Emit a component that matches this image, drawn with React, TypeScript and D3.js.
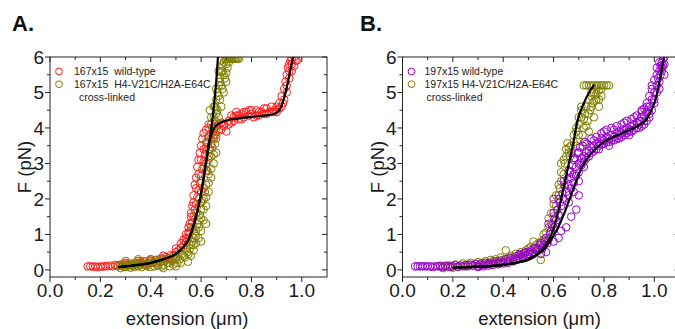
import React from "react";
import * as d3 from "d3";

type P = [number, number];

const xTicks = [0, 0.2, 0.4, 0.6, 0.8, 1.0];
const yTicks = [0, 1, 2, 3, 4, 5, 6];

const legendA = ["167x15  wild-type", "167x15  H4-V21C/H2A-E64C", "cross-linked"];
const legendB = ["197x15 wild-type", "197x15 H4-V21C/H2A-E64C", "cross-linked"];

const redA: P[] = [
  [0.15,0.1],[0.16,0.1],[0.17,0.09],[0.18,0.1],[0.19,0.08],[0.2,0.1],[0.21,0.09],[0.22,0.11],[0.23,0.1],[0.24,0.12],
  [0.25,0.1],[0.26,0.14],[0.27,0.12],[0.28,0.15],[0.29,0.13],[0.3,0.16],[0.31,0.14],[0.32,0.18],[0.33,0.15],[0.34,0.2],
  [0.35,0.17],[0.36,0.22],[0.37,0.18],[0.38,0.24],[0.39,0.2],[0.4,0.26],[0.41,0.22],[0.42,0.28],[0.43,0.25],[0.44,0.32],
  [0.45,0.3],[0.46,0.36],[0.47,0.33],[0.48,0.42],[0.49,0.4],[0.5,0.5],[0.51,0.55],[0.52,0.62],[0.53,0.7],[0.54,0.78],
  [0.55,0.9],[0.555,1.05],[0.56,1.2],[0.565,1.35],[0.57,1.5],[0.575,1.7],[0.58,1.85],[0.585,2.05],[0.59,2.25],[0.595,2.45],
  [0.6,2.65],[0.605,2.85],[0.61,3.05],[0.615,3.25],[0.62,3.45],[0.625,3.6],[0.63,3.75],[0.64,3.85],[0.65,3.95],[0.66,4.05],
  [0.67,4.1],[0.68,4.15],[0.69,4.1],[0.7,3.9],[0.71,4.2],[0.72,4.15],[0.73,4.3],[0.74,4.35],[0.75,4.25],[0.76,4.4],
  [0.77,4.3],[0.78,4.45],[0.79,4.35],[0.8,4.4],[0.81,4.3],[0.82,4.5],[0.83,4.35],[0.84,4.45],[0.85,4.4],[0.86,4.55],
  [0.87,4.45],[0.88,4.6],[0.89,4.5],[0.9,4.6],[0.91,4.7],[0.92,4.9],[0.93,5.1],[0.935,5.3],[0.94,5.5],[0.945,5.7],
  [0.95,5.8],[0.955,5.9],[0.96,5.95],[0.97,6.0],[0.975,5.9],
  [0.57,1.9],[0.58,2.3],[0.59,2.7],[0.6,3.1],[0.61,3.4],[0.56,1.5],[0.55,1.2],[0.54,1.0],[0.6,2.2],[0.62,3.0],
  [0.63,3.4],[0.65,3.7],[0.66,3.8],[0.68,3.95],[0.72,4.35],[0.74,4.45],[0.76,4.25],[0.79,4.5],[0.82,4.35],[0.85,4.55],
  [0.88,4.45],[0.9,4.45],[0.92,4.6],[0.93,4.8],[0.94,5.0],[0.95,5.4],[0.96,5.6],[0.97,5.75],[0.98,5.9],
  [0.3,0.2],[0.35,0.25],[0.4,0.3],[0.45,0.4],[0.5,0.6],[0.52,0.75],[0.53,0.85],[0.48,0.3],[0.42,0.2],[0.38,0.15],
  [0.54,0.9],[0.55,1.05],[0.555,1.3],[0.56,1.6],[0.565,1.8],[0.57,2.1],[0.575,2.4],[0.58,2.6],[0.585,2.9],[0.59,3.1],
  [0.595,3.3],[0.6,3.5],[0.605,3.7],[0.61,3.85],[0.62,3.95],[0.63,4.0],[0.64,4.1],
  [0.6,1.9],[0.61,2.3],[0.62,2.8],[0.63,3.2],[0.64,3.55],[0.65,3.8],[0.67,3.95],[0.69,4.05],[0.71,4.1],[0.73,4.2],
  [0.75,4.35],[0.77,4.45],[0.8,4.5],[0.83,4.45],[0.86,4.4],[0.89,4.45],[0.91,4.55],[0.925,4.7],[0.94,5.2],[0.95,5.6],[0.96,5.8]
];

const oliveA: P[] = [
  [0.27,0.1],[0.28,0.05],[0.29,0.12],[0.3,0.08],[0.31,0.15],[0.32,0.06],[0.33,0.12],[0.34,0.2],[0.35,0.1],[0.36,0.15],
  [0.37,0.25],[0.38,0.12],[0.39,0.18],[0.4,0.08],[0.41,0.2],[0.42,0.28],[0.43,0.12],[0.44,0.22],[0.45,0.15],[0.46,0.3],
  [0.47,0.2],[0.48,0.35],[0.49,0.15],[0.5,0.3],[0.51,0.45],[0.52,0.2],[0.53,0.4],[0.54,0.6],[0.548,0.23],[0.56,0.7],
  [0.57,0.9],[0.58,1.1],[0.59,1.4],[0.6,1.7],[0.61,2.0],[0.62,2.4],[0.625,2.8],[0.63,3.1],[0.635,3.4],[0.64,3.7],
  [0.645,4.0],[0.65,4.3],[0.655,4.6],[0.66,4.8],[0.665,5.0],[0.67,5.2],[0.675,5.4],[0.68,5.6],[0.685,5.75],[0.69,5.85],
  [0.695,5.95],[0.7,5.95],[0.705,5.95],[0.71,5.95],[0.715,5.95],[0.72,5.95],[0.725,5.95],[0.73,5.95],[0.735,5.95],[0.74,5.95],[0.745,5.95],[0.75,5.95],
  [0.6,1.1],[0.61,1.4],[0.62,1.8],[0.63,2.2],[0.64,2.6],[0.65,3.0],[0.66,3.3],[0.64,3.2],[0.62,1.3],[0.59,0.9],
  [0.58,0.75],[0.6,0.8],[0.57,0.55],[0.55,0.45],[0.5,0.1],[0.45,0.05],[0.4,0.3],[0.35,0.3],[0.3,0.25],
  [0.64,4.3],[0.65,4.6],[0.66,4.4],[0.67,4.9],[0.66,5.1],[0.68,5.2],[0.69,5.5],[0.67,5.6],[0.7,5.8],[0.68,5.9],
  [0.66,3.9],[0.65,4.0],[0.635,4.5],[0.63,4.1],[0.62,3.6],[0.61,2.9],[0.6,2.5],[0.59,2.0],[0.58,1.6],[0.57,1.2],
  [0.56,0.4],[0.57,0.7],[0.58,0.95],[0.59,1.2],[0.6,1.45],[0.61,1.7],[0.62,2.05],[0.63,2.45],[0.64,2.85],[0.65,3.25],
  [0.655,3.55],[0.66,3.7],[0.645,3.45],[0.63,2.7],[0.615,2.2],[0.605,1.95],[0.595,1.55],[0.585,1.3],[0.575,1.0],[0.565,0.8],
  [0.555,0.6],[0.545,0.5],[0.535,0.35],[0.525,0.45],[0.515,0.3],[0.505,0.2],[0.495,0.35],[0.485,0.25],[0.475,0.1],[0.465,0.2],
  [0.455,0.25],[0.445,0.1],[0.435,0.3],[0.425,0.15],[0.415,0.1],[0.405,0.2],[0.395,0.25],[0.385,0.1],[0.375,0.15],[0.365,0.08],
  [0.355,0.2],[0.345,0.12],[0.335,0.08],[0.325,0.15],[0.315,0.1],[0.305,0.12],[0.295,0.08],[0.285,0.15],
  [0.655,4.2],[0.665,4.5],[0.675,4.8],[0.685,5.1],[0.695,5.4],[0.705,5.7],[0.67,4.3],[0.68,4.6],[0.69,5.0],[0.7,5.3],
  [0.66,4.55],[0.675,5.3],[0.685,5.6],[0.7,5.55],[0.71,5.85]
];

const fitRedA: P[] = [
  [0.27,0.08],[0.3,0.1],[0.35,0.14],[0.4,0.2],[0.45,0.3],[0.5,0.45],[0.53,0.65],[0.55,0.85],[0.57,1.25],[0.585,1.65],
  [0.6,2.15],[0.61,2.6],[0.62,3.05],[0.63,3.5],[0.64,3.8],[0.65,3.98],[0.66,4.07],[0.68,4.16],[0.7,4.21],[0.75,4.27],
  [0.8,4.31],[0.85,4.35],[0.88,4.38],[0.9,4.43],[0.915,4.55],[0.93,4.85],[0.945,5.3],[0.955,5.65],[0.965,6.0]
];
const fitOliveA: P[] = [
  [0.27,0.08],[0.3,0.1],[0.35,0.14],[0.4,0.2],[0.45,0.3],[0.5,0.45],[0.53,0.65],[0.55,0.85],[0.57,1.25],[0.585,1.65],
  [0.6,2.15],[0.61,2.6],[0.62,3.05],[0.63,3.5],[0.64,3.97],[0.65,4.55],[0.66,5.3],[0.667,6.0]
];

const purpleB: P[] = [
  [0.05,0.1],[0.06,0.1],[0.07,0.1],[0.08,0.1],[0.1,0.1],[0.12,0.08],[0.14,0.1],[0.15,0.12],[0.16,0.08],[0.17,0.1],
  [0.18,0.12],[0.19,0.08],[0.2,0.1],[0.21,0.13],[0.22,0.09],[0.23,0.12],[0.24,0.1],[0.25,0.14],[0.26,0.1],[0.27,0.15],
  [0.28,0.12],[0.29,0.16],[0.3,0.12],[0.31,0.18],[0.32,0.14],[0.33,0.2],[0.34,0.16],[0.35,0.2],[0.36,0.18],[0.37,0.24],
  [0.38,0.2],[0.39,0.26],[0.4,0.22],[0.41,0.3],[0.42,0.25],[0.43,0.34],[0.44,0.3],[0.45,0.38],[0.46,0.34],[0.47,0.42],
  [0.48,0.4],[0.49,0.5],[0.5,0.45],[0.51,0.55],[0.52,0.5],[0.53,0.62],[0.54,0.6],[0.55,0.75],[0.56,0.7],[0.57,0.9],
  [0.58,0.85],[0.59,1.1],[0.6,1.2],[0.61,1.4],[0.62,1.55],[0.63,1.8],[0.64,2.0],[0.65,2.2],[0.66,2.4],[0.67,2.6],
  [0.68,2.7],[0.69,2.9],[0.7,3.0],[0.71,3.15],[0.72,3.2],[0.73,3.3],[0.74,3.35],[0.75,3.45],[0.76,3.5],[0.77,3.55],
  [0.78,3.6],[0.79,3.7],[0.8,3.65],[0.81,3.75],[0.82,3.7],[0.83,3.8],[0.84,3.75],[0.85,3.85],[0.86,3.9],[0.87,3.85],
  [0.88,3.95],[0.89,4.0],[0.9,3.95],[0.91,4.05],[0.92,4.1],[0.93,4.15],[0.94,4.2],[0.95,4.3],[0.96,4.35],[0.97,4.45],
  [0.98,4.6],[0.99,4.8],[1.0,5.0],[1.01,5.2],[1.015,5.4],[1.02,5.6],[1.025,5.75],[1.03,5.85],[1.035,5.95],[1.04,6.0],
  [0.58,1.3],[0.6,1.6],[0.62,2.0],[0.6,2.0],[0.64,2.5],[0.66,2.8],[0.68,3.1],[0.7,3.3],[0.66,1.9],[0.68,2.2],
  [0.7,2.5],[0.72,2.9],[0.69,1.7],[0.7,2.1],[0.67,1.5],[0.65,1.2],[0.63,1.1],[0.62,0.9],[0.6,0.8],[0.57,0.5],[0.55,0.45],
  [0.75,3.7],[0.78,3.4],[0.8,3.9],[0.82,3.5],[0.84,3.95],[0.86,3.7],[0.88,4.15],[0.9,3.8],[0.92,4.3],[0.94,4.1],
  [0.95,4.5],[0.96,4.2],[0.97,4.7],[0.98,4.4],[0.99,5.1],[1.0,4.7],[1.01,5.5],[1.02,5.3],[1.03,5.7],[1.04,5.5],
  [1.035,5.75],[0.73,3.55],[0.76,3.65],
  [0.585,1.0],[0.595,1.25],[0.605,1.45],[0.615,1.7],[0.625,1.9],[0.635,2.15],[0.645,2.35],[0.655,2.55],[0.665,2.75],[0.675,2.95],
  [0.685,3.15],[0.695,3.3],[0.705,3.45],[0.715,3.5],[0.725,3.6],[0.66,2.1],[0.67,2.3],[0.68,2.45],[0.69,2.65],[0.7,2.75],
  [0.71,2.95],[0.72,3.05],[0.73,3.15],[0.74,3.2],[0.75,3.3],[0.76,3.35],[0.77,3.4],[0.78,3.5],[0.79,3.55],[0.8,3.55],
  [0.81,3.6],[0.82,3.6],[0.83,3.65],[0.84,3.65],[0.85,3.7],[0.86,3.8],[0.87,3.75],[0.88,3.8],[0.89,3.85],[0.9,3.9],
  [0.91,3.9],[0.92,3.95],[0.93,4.0],[0.94,4.0],[0.95,4.05],[0.96,4.1],[0.97,4.2],[0.98,4.3],[0.99,4.5],[1.0,4.8],
  [1.01,5.0],[1.02,5.1],[1.025,5.5],[1.03,5.6],[1.04,5.8],[0.77,3.75],[0.79,3.85],[0.81,3.95],[0.83,4.0],[0.85,4.05],
  [0.87,4.1],[0.89,4.2],[0.91,4.25],[0.93,4.35],[0.95,4.45],[0.96,4.55],[0.97,4.6],[0.98,4.9],[0.99,5.2],[1.0,5.35],
  [1.01,5.7],[1.02,5.85],
  [0.455,0.3],[0.465,0.45],[0.475,0.35],[0.485,0.48],[0.495,0.4],[0.505,0.5],[0.515,0.45],[0.525,0.6],[0.535,0.55],[0.545,0.7],
  [0.555,0.6],[0.565,0.8],[0.575,0.75],[0.3,0.08],[0.32,0.1],[0.34,0.12],[0.36,0.14],[0.38,0.16],[0.4,0.18],[0.42,0.2],
  [0.44,0.24],[0.13,0.1],[0.11,0.1],[0.09,0.1]
];

const oliveB: P[] = [
  [0.15,0.1],[0.16,0.05],[0.17,0.12],[0.18,0.08],[0.19,0.12],[0.2,0.06],[0.21,0.15],[0.22,0.08],[0.23,0.12],[0.24,0.18],
  [0.25,0.1],[0.26,0.15],[0.27,0.2],[0.28,0.12],[0.29,0.18],[0.3,0.22],[0.31,0.15],[0.32,0.2],[0.33,0.25],[0.34,0.18],
  [0.35,0.28],[0.36,0.2],[0.37,0.3],[0.38,0.25],[0.39,0.35],[0.4,0.28],[0.41,0.55],[0.42,0.3],[0.43,0.4],[0.44,0.35],
  [0.45,0.45],[0.46,0.4],[0.47,0.5],[0.48,0.45],[0.49,0.55],[0.5,0.6],[0.51,0.65],[0.52,0.6],[0.53,0.7],[0.54,0.75],
  [0.549,0.28],[0.55,0.8],[0.56,1.0],[0.57,1.05],[0.58,1.2],[0.59,1.3],[0.6,1.5],[0.61,1.8],[0.62,2.1],[0.625,2.3],
  [0.63,2.5],[0.64,2.7],[0.645,3.0],[0.65,3.4],[0.655,3.57],[0.665,3.2],[0.67,3.3],[0.68,3.6],[0.69,3.9],[0.7,4.1],
  [0.71,4.3],[0.715,3.8],[0.72,4.0],[0.725,4.4],[0.73,4.6],[0.735,4.2],[0.74,4.8],[0.745,4.5],[0.75,4.9],[0.755,4.7],
  [0.76,5.0],[0.77,4.8],[0.78,5.05],[0.79,4.9],
  [0.72,5.2],[0.73,5.2],[0.74,5.2],[0.75,5.2],[0.76,5.2],[0.77,5.2],[0.78,5.2],[0.79,5.2],[0.8,5.2],[0.81,5.2],[0.82,5.2],
  [0.6,1.2],[0.62,1.55],[0.64,2.4],[0.7,3.8],[0.72,3.6],[0.74,3.9],[0.76,4.3],[0.78,4.6],[0.71,4.6],[0.75,5.0],[0.77,5.1],
  [0.63,3.0],[0.66,3.45],[0.69,3.5],
  [0.3,0.1],[0.33,0.15],[0.36,0.25],[0.39,0.2],[0.42,0.35],[0.45,0.3],[0.48,0.35],[0.5,0.45],[0.52,0.8],[0.53,0.55],
  [0.56,0.85],[0.58,1.45],[0.59,1.6],[0.6,1.85],[0.61,2.1],[0.62,2.4],[0.63,2.75],[0.64,3.1],[0.65,3.2],[0.66,3.3],
  [0.67,3.5],[0.68,3.8],[0.69,4.0],[0.7,4.3],[0.71,4.5],[0.72,4.25],[0.73,4.05],[0.74,4.4],[0.75,4.6],[0.76,4.75],
  [0.77,4.95],[0.78,4.8],[0.79,5.1]
];

const fitPurpleB: P[] = [
  [0.2,0.06],[0.3,0.09],[0.4,0.14],[0.45,0.2],[0.5,0.28],[0.53,0.4],[0.56,0.56],[0.59,0.85],[0.615,1.15],[0.64,1.55],
  [0.662,1.97],[0.69,2.5],[0.71,2.85],[0.74,3.2],[0.77,3.43],[0.8,3.6],[0.83,3.72],[0.87,3.85],[0.92,4.0],[0.95,4.12],
  [0.97,4.25],[0.985,4.45],[1.0,4.7],[1.015,5.1],[1.028,5.6],[1.039,6.0]
];
const fitOliveB: P[] = [
  [0.2,0.06],[0.3,0.09],[0.4,0.14],[0.45,0.2],[0.5,0.3],[0.53,0.42],[0.56,0.62],[0.59,0.98],[0.61,1.4],[0.629,1.97],
  [0.656,2.85],[0.676,3.5],[0.695,4.2],[0.72,4.7],[0.745,5.05],[0.762,5.22]
];

const RED = "#ff1a1a";
const OLIVE = "#808000";
const PURPLE = "#9a00d0";
const FONT = "'Liberation Sans', Arial, sans-serif";

interface Series { pts: P[]; color: string; }
interface PanelProps {
  id: string;
  letter: string;
  letterX: number;
  left: number;
  series: Series[];
  fits: P[][];
  legend: string[];
  legendColors: string[];
  legendTextDx: number;
  legendSubDx: number;
}

const top = 57;
const bottom = 277;
const plotW = 277;

function Panel(p: PanelProps) {
  const x = d3.scaleLinear().domain([0, 1.1]).range([p.left, p.left + plotW]);
  const y = d3.scaleLinear().domain([-0.2, 6]).range([bottom, top]);
  const line = d3.line<P>().x(d => x(d[0])).y(d => y(d[1])).curve(d3.curveMonotoneX);
  const minorX = d3.range(0, 11).map(i => i / 10).filter(v => !xTicks.some(t => Math.abs(t - v) < 1e-6));
  const minorY = d3.range(0, 6).map(i => i + 0.5);
  const x0 = x(0), x1 = x(1.1);
  const clipId = "clip" + p.id;
  const legendX = p.left + 9;
  return (
    <g>
      <text x={p.letterX} y={31} fontFamily={FONT} fontWeight="bold" fontSize={22} fill="#111">{p.letter}</text>
      <defs>
        <clipPath id={clipId}>
          <rect x={x0} y={top} width={x1 - x0} height={bottom - top} />
        </clipPath>
      </defs>
      <g clipPath={`url(#${clipId})`}>
        {p.series.map((s, si) => (
          <g key={si}>
            {s.pts.map((d, i) => (
              <circle key={i} cx={x(d[0])} cy={y(d[1])} r={3.8} fill="none" stroke={s.color} strokeWidth={1} />
            ))}
          </g>
        ))}
        {p.fits.map((f, i) => (
          <path key={i} d={line(f) || ""} fill="none" stroke="#000" strokeWidth={2.2} />
        ))}
      </g>
      <rect x={x0} y={top} width={x1 - x0} height={bottom - top} fill="none" stroke="#222" strokeWidth={1} />
      {xTicks.map(t => (
        <g key={"xt" + t}>
          <line x1={x(t)} x2={x(t)} y1={bottom} y2={bottom + 5} stroke="#222" />
          <line x1={x(t)} x2={x(t)} y1={top} y2={top + 5} stroke="#222" />
          <text x={x(t)} y={297} textAnchor="middle" fontFamily={FONT} fontSize={19} fill="#1a1a1a">{t.toFixed(1)}</text>
        </g>
      ))}
      {minorX.map(t => (
        <g key={"xm" + t}>
          <line x1={x(t)} x2={x(t)} y1={bottom} y2={bottom + 3} stroke="#222" />
          <line x1={x(t)} x2={x(t)} y1={top} y2={top + 3} stroke="#222" />
        </g>
      ))}
      {yTicks.map(t => (
        <g key={"yt" + t}>
          <line x1={x0 - 5} x2={x0} y1={y(t)} y2={y(t)} stroke="#222" />
          <line x1={x1 - 5} x2={x1} y1={y(t)} y2={y(t)} stroke="#222" />
          <text x={x0 - 6} y={y(t)} dy="0.36em" textAnchor="end" fontFamily={FONT} fontSize={19} fill="#1a1a1a">{t}</text>
        </g>
      ))}
      {minorY.map(t => (
        <g key={"ym" + t}>
          <line x1={x0 - 3} x2={x0} y1={y(t)} y2={y(t)} stroke="#222" />
          <line x1={x1 - 3} x2={x1} y1={y(t)} y2={y(t)} stroke="#222" />
        </g>
      ))}
      <text x={p.left + 137} y={325} textAnchor="middle" fontFamily={FONT} fontSize={18.5} fill="#1a1a1a">extension (μm)</text>
      <text transform={`translate(${p.left - 19},${167}) rotate(-90)`} textAnchor="middle" fontFamily={FONT} fontSize={18.5} fill="#1a1a1a">F (pN)</text>
      {[0, 1].map(i => (
        <g key={"lg" + i}>
          <circle cx={legendX} cy={71.5 + i * 12.7} r={3.4} fill="none" stroke={p.legendColors[i]} strokeWidth={1} />
          <text x={legendX + p.legendTextDx} y={71.5 + i * 12.7} dy="0.35em" fontFamily={FONT} fontSize={10.5} fill="#222" style={{ whiteSpace: "pre" }}>{p.legend[i]}</text>
        </g>
      ))}
      <text x={legendX + p.legendSubDx} y={71.5 + 2 * 12.7} dy="0.35em" fontFamily={FONT} fontSize={10.5} fill="#222">{p.legend[2]}</text>
    </g>
  );
}

export default function App() {
  return (
    <svg width={675} height={329} style={{ position: "absolute", left: 0, top: 0, background: "#fff" }}>
      <rect x={0} y={0} width={675} height={329} fill="#fff" />
      <Panel
        id="A" letter="A." letterX={12} left={50}
        series={[{ pts: redA, color: RED }, { pts: oliveA, color: OLIVE }]}
        fits={[fitRedA, fitOliveA]}
        legend={legendA} legendColors={[RED, OLIVE]} legendTextDx={15} legendSubDx={20}
      />
      <Panel
        id="B" letter="B." letterX={360} left={402.5}
        series={[{ pts: oliveB, color: OLIVE }, { pts: purpleB, color: PURPLE }]}
        fits={[fitPurpleB, fitOliveB]}
        legend={legendB} legendColors={[PURPLE, OLIVE]} legendTextDx={13} legendSubDx={15}
      />
    </svg>
  );
}
